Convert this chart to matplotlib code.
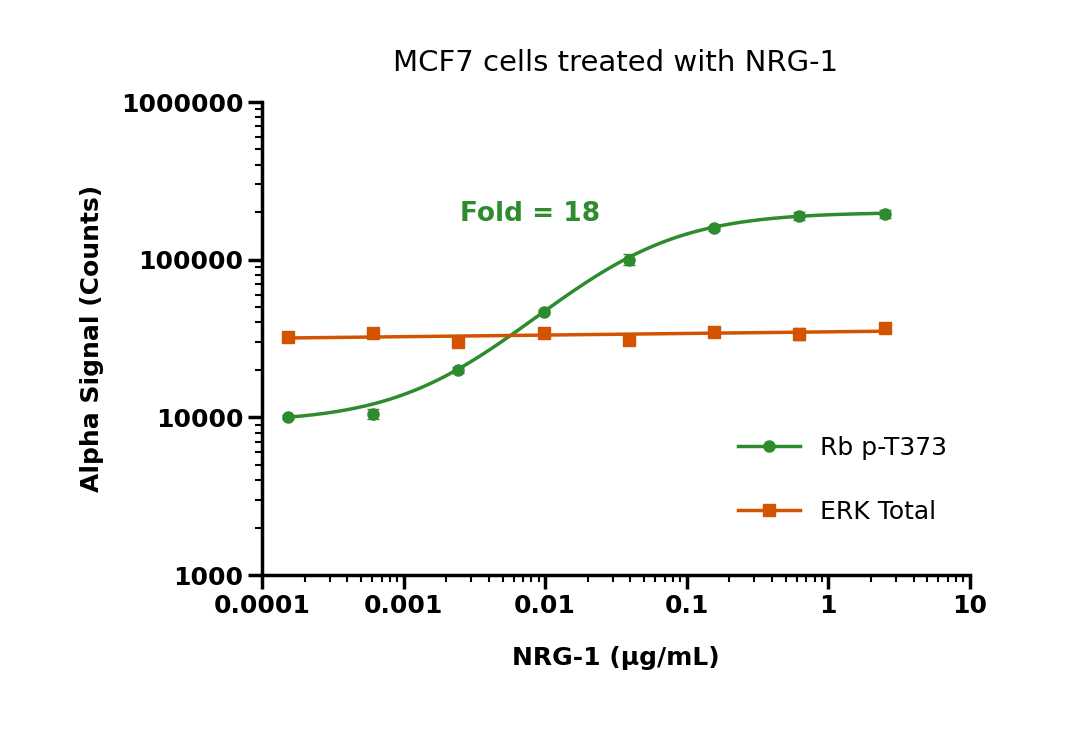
import numpy as np
import matplotlib
matplotlib.use('Agg')
import matplotlib.pyplot as plt

conc = [0.000153, 0.00061, 0.00244, 0.0098, 0.039, 0.156, 0.625, 2.5]
rb_vals = [10000, 10500, 20000, 46500, 100000, 158000, 190000, 195000]
rb_err = [300, 800, 800, 1500, 8000, 6000, 12000, 12000]
erk_vals = [32500, 34500, 30000, 34500, 31000, 35000, 34000, 37000]
erk_err = [1000, 1500, 2000, 1000, 2000, 1500, 3000, 2000]

green = '#2e8b2e'
orange = '#d35400'

fig = plt.figure(figsize=(10.8, 7.42), dpi=100)
ax = fig.add_axes([0.2426, 0.225, 0.6554, 0.6375])

# fitted curves
xs = np.logspace(np.log10(conc[0]), np.log10(conc[-1]), 300)
bottom, top, ec50, hill = 9300, 200000, 0.04, 1.0
ax.plot(xs, bottom + (top - bottom) / (1 + (ec50 / xs) ** hill), color=green, lw=2.5)
b, a = np.polyfit(np.log10(conc), np.log10(erk_vals), 1)
ax.plot(xs, 10 ** (a + b * np.log10(xs)), color=orange, lw=2.5)

ax.errorbar(conc, rb_vals, yerr=rb_err, fmt='o', color=green, ms=8, capsize=4, elinewidth=2)
ax.errorbar(conc, erk_vals, yerr=erk_err, fmt='s', color=orange, ms=8, capsize=4, elinewidth=2)

ax.set_xscale('log')
ax.set_yscale('log')
ax.set_xlim(1e-4, 10)
ax.set_ylim(1e3, 1e6)
ax.set_xticks([1e-4, 1e-3, 1e-2, 0.1, 1, 10])
ax.set_xticklabels(['0.0001', '0.001', '0.01', '0.1', '1', '10'])
ax.set_yticks([1e3, 1e4, 1e5, 1e6])
ax.set_yticklabels(['1000', '10000', '100000', '1000000'])
for s in ['top', 'right']:
    ax.spines[s].set_visible(False)
for s in ['left', 'bottom']:
    ax.spines[s].set_linewidth(2.5)
ax.tick_params(which='major', length=10, width=2.5, labelsize=18)
ax.tick_params(which='minor', length=5, width=1.5)
for lab in ax.get_xticklabels() + ax.get_yticklabels():
    lab.set_fontweight('bold')

ax.set_xlabel('NRG-1 (µg/mL)', fontsize=18, fontweight='bold', labelpad=20)
ax.set_ylabel('Alpha Signal (Counts)', fontsize=18, fontweight='bold', labelpad=12)
ax.set_title('MCF7 cells treated with NRG-1', fontsize=21, pad=22)
ax.text(0.0025, 1.75e5, 'Fold = 18', color=green, fontsize=19, fontweight='bold')

ax.plot([], [], '-o', color=green, lw=2.5, ms=8, label='Rb p-T373')
ax.plot([], [], '-s', color=orange, lw=2.5, ms=8, label='ERK Total')
ax.legend(loc='lower right', bbox_to_anchor=(1.0, 0.06), frameon=False,
          fontsize=18, handlelength=2.5, labelspacing=1.6)

fig.savefig('out.png', dpi=100)
